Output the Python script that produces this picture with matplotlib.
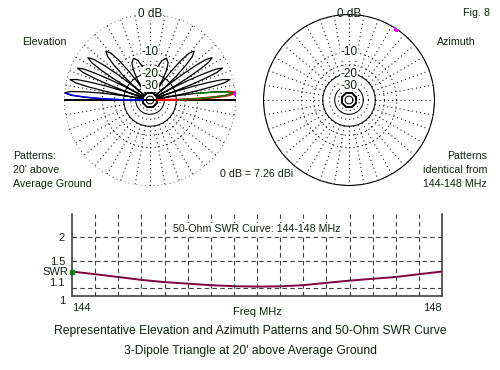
import numpy as np
import matplotlib
matplotlib.use("Agg")
import matplotlib.pyplot as plt

plt.rcParams['font.family'] = ['Liberation Sans', 'DejaVu Sans']
txt_col = '#0f230f'

# elevation pattern, one side (degrees above horizon, dB)
elev_deg = [0, 0.58, 1.44, 2.5, 3.46, 4.8, 6.14, 7.1, 8.16, 9.02, 9.6,
            10.16, 11.01, 12.04, 12.98, 14.3, 15.62, 16.56, 17.59, 18.44, 19.0,
            19.57, 20.43, 21.47, 22.42, 23.75, 25.08, 26.03, 27.07, 27.93, 28.5,
            29.19, 30.23, 31.49, 32.64, 34.25, 35.86, 37.01, 38.27, 39.31, 40.0,
            40.96, 42.4, 44.16, 45.76, 48.0, 50.24, 51.84, 53.6, 55.04, 56.0,
            57.0, 58.5, 61.0, 64.0, 68.5, 73.0, 77.0, 81.0, 85.0, 90.0]
elev_db = [-40, -18, -10, -4.5, -1.4, 0.0, -1.4, -4.5, -10, -18, -40,
           -18.7, -10.7, -5.2, -2.1, -0.7, -2.1, -5.2, -10.7, -18.7, -40,
           -19.4, -11.4, -5.9, -2.8, -1.4, -2.8, -5.9, -11.4, -19.4, -40,
           -20.3, -12.3, -6.8, -3.7, -2.3, -3.7, -6.8, -12.3, -20.3, -40,
           -22.5, -14.5, -9.0, -5.9, -4.5, -5.9, -9.0, -14.5, -22.5, -40,
           -29, -21, -15.5, -12.4, -11, -12.4, -15.5, -19, -21, -22]

# overlay traces (other frequencies) on the main lobe
blue_deg = [0, 0.58, 1.44, 2.5, 3.46, 4.7]
blue_db = [-40, -18.4, -10.4, -4.9, -1.7, -0.3]
red_deg = [0, 0.58, 1.44, 2.5, 3.46, 4.8, 6.1]
red_db = [-40, -18.2, -10.2, -4.7, -1.5, -0.1, -1.5]
green_deg = [0.58, 1.44, 2.5, 3.46, 4.7, 6.0, 7.0, 8.0]
green_db = [-19, -11, -5.4, -2.2, -0.6, -2.0, -5.0, -10.4]
elev_max = (4.8, 0.0)

# azimuth pattern (omni)
az_deg = np.arange(0, 361, 10)
az_db = [0.0, 0.0, 0.0, 0.0, 0.0, 0.0, 0.0, 0.0, 0.0, 0.0, 0.0, 0.0, 0.0,
         0.0, 0.0, 0.0, 0.0, 0.0, 0.0, 0.0, 0.0, 0.0, 0.0, 0.0, 0.0, 0.0,
         0.0, 0.0, 0.0, 0.0, 0.0, 0.0, 0.0, 0.0, 0.0, 0.0, 0.0]
az_max = (57.0, 0.0)

# SWR curve
freq = [144.0, 144.25, 144.5, 144.75, 145.0, 145.25, 145.5, 145.75, 146.0,
        146.25, 146.5, 146.75, 147.0, 147.25, 147.5, 147.75, 148.0]
swr = [1.32, 1.28, 1.24, 1.20, 1.17, 1.15, 1.13, 1.117, 1.112,
       1.115, 1.13, 1.16, 1.19, 1.215, 1.24, 1.28, 1.32]
swr_ticks = [1, 1.1, 1.5, 2]
swr_labels = ['1', '1.1', '1.5', '2']


def arrl(db):
    return 0.89 ** (-np.asarray(db, dtype=float) / 2.0)


def arrl_inv(r):
    return -2.0 * np.log(np.clip(r, 1e-9, None)) / np.log(0.89)


def rho(s):
    s = np.asarray(s, dtype=float)
    return (s - 1) / (s + 1)


def rho_inv(r):
    r = np.clip(np.asarray(r, dtype=float), None, 0.999)
    return (1 + r) / (1 - r)


fig = plt.figure(figsize=(5, 3.7), dpi=100)


def ftext(x, y, s, **kw):
    kw.setdefault('color', txt_col)
    kw.setdefault('fontsize', 7.7)
    fig.text(x / 500, 1 - y / 370, s, **kw)


dots = (0, (1, 3))
th = np.linspace(0, 2 * np.pi, 721)
lab = dict(ha='center', va='center', fontsize=8.5, color=txt_col,
           bbox=dict(facecolor='white', edgecolor='none', pad=0.3))


def polar_frame(ax, outer_dotted):
    ax.set_rscale('function', functions=(arrl, arrl_inv))
    ax.set_rlim(-80, 0)
    ax.set_xticks([])
    ax.set_yticks([])
    ax.grid(False)
    ax.spines['polar'].set_visible(False)
    ax.patch.set_alpha(0)
    rings = [(-10, dots), (-15, dots), (-25, dots), (-35, dots),
             (-20, '-'), (-30, '-')]
    if outer_dotted:
        rings.append((0, dots))
    for lvl, ls in rings:
        ax.plot(th, np.full_like(th, lvl), color='black', lw=0.75, ls=ls)
    for a in np.radians(np.arange(0, 360, 10)):
        ax.plot([a, a], [-20, 0], color='black', lw=0.75, ls=dots)
    octa = np.radians(np.arange(22.5, 383, 45))
    ax.plot(octa, np.full_like(octa, -40), color='black', lw=1.4)
    ax.plot(th, np.full_like(th, -50), color='black', lw=0.75)
    for lvl in [-10, -20, -30]:
        ax.text(np.pi / 2, lvl, str(lvl), **lab)


# elevation plot
ax1 = fig.add_axes([64 / 500, 1 - 186 / 370, 172 / 500, 172 / 370], projection='polar')
polar_frame(ax1, True)
right = np.radians(elev_deg)
left = np.pi - right
ax1.plot(right, elev_db, color='black', lw=0.9)
ax1.plot(left, elev_db, color='black', lw=0.9)
ax1.plot([0, np.pi], [0, 0], color='black', lw=1.4)
ax1.plot(np.pi - np.radians(blue_deg), blue_db, color='#0000ff', lw=1.1)
ax1.plot(np.radians(red_deg), red_db, color='#ff0000', lw=1.6)
ax1.plot(np.radians(green_deg), green_db, color='#008000', lw=1.0)
ax1.plot(np.radians(elev_max[0]), elev_max[1], 's', ms=3.5, mfc='#00c000', mec='#ff00ff', mew=1)
ax1.text(np.pi / 2, 0, '0 dB', **lab)

# azimuth plot
ax2 = fig.add_axes([263 / 500, 1 - 186 / 370, 172 / 500, 172 / 370], projection='polar')
polar_frame(ax2, False)
ax2.plot(np.radians(az_deg), az_db, color='black', lw=1.3)
ax2.plot(np.radians(az_max[0]), az_max[1], 's', ms=3.5, mfc='#00c000', mec='#ff00ff', mew=1)
ax2.text(np.pi / 2, 0, '0 dB', ha='center', va='center', fontsize=8.5, color=txt_col)

# text around the patterns
ftext(490, 13, 'Fig. 8', ha='right', va='center')
ftext(22, 42, 'Elevation', ha='left', va='center')
ftext(437, 42, 'Azimuth', ha='left', va='center')
for i, s in enumerate(['Patterns:', "20' above", 'Average Ground']):
    ftext(13, 156 + 14 * i, s, ha='left', va='center')
for i, s in enumerate(['Patterns', 'identical from', '144-148 MHz']):
    ftext(487, 156 + 14 * i, s, ha='right', va='center')
ftext(257, 174, '0 dB = 7.26 dBi', ha='center', va='center')

# SWR plot
ax3 = fig.add_axes([72 / 500, 1 - 296 / 370, 370 / 500, 82 / 370])
ax3.set_yscale('function', functions=(rho, rho_inv))
ax3.set_xlim(144, 148)
ax3.set_ylim(1, 2.72)
ax3.plot(freq, swr, color='#800040', lw=1.4)
ax3.plot(freq[0], swr[0], 's', ms=3, mfc='#00a000', mec='#00a000', clip_on=False)
for f in np.arange(144.25, 147.9, 0.25):
    ax3.axvline(f, color='#404040', lw=0.8, ls=(0, (4, 3)))
for s in [1.1, 1.5, 2]:
    ax3.axhline(s, color='#404040', lw=0.8, ls=(0, (4, 3)))
ax3.spines['top'].set_visible(False)
for k in ['left', 'bottom', 'right']:
    ax3.spines[k].set_color('#404040')
    ax3.spines[k].set_linewidth(1.2)
ax3.set_yticks(swr_ticks)
ax3.set_yticklabels(swr_labels)
ax3.yaxis.set_minor_locator(matplotlib.ticker.NullLocator())
ax3.set_xticks([144, 148])
ax3.set_xticklabels(['144', '148'])
ax3.tick_params(length=0, labelsize=8, labelcolor=txt_col, pad=5)
yl = ax3.get_yticklabels()
yl[0].set_va('top')
yl[1].set_va('bottom')
xl = ax3.get_xticklabels()
xl[0].set_ha('left')
xl[1].set_ha('right')
ax3.text(-0.01, 0.29, 'SWR', transform=ax3.transAxes, ha='right', va='center',
         fontsize=8, color=txt_col)
ax3.text(0.5, -0.195, 'Freq MHz', transform=ax3.transAxes, ha='center', va='center',
         fontsize=8, color=txt_col)
ax3.text(0.5, 0.817, '50-Ohm SWR Curve: 144-148 MHz', transform=ax3.transAxes,
         ha='center', va='center', fontsize=7.7, color=txt_col,
         bbox=dict(facecolor='white', edgecolor='none', pad=0.5))

ftext(250, 331, 'Representative Elevation and Azimuth Patterns and 50-Ohm SWR Curve',
      ha='center', va='center', fontsize=8.7)
ftext(250, 351, "3-Dipole Triangle at 20' above Average Ground", ha='center', va='center',
      fontsize=8.7)

fig.savefig('out.png', dpi=100)
